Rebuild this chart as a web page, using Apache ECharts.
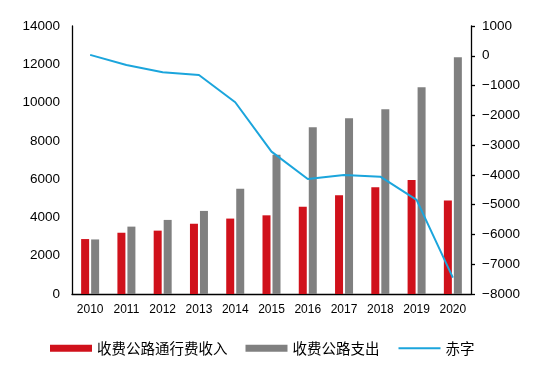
<!DOCTYPE html>
<html>
<head>
<meta charset="utf-8">
<script src="https://cdn.jsdelivr.net/npm/echarts@6/dist/echarts.min.js"></script>
<style>
html,body{margin:0;padding:0;background:#fff;}
#chart{width:550px;height:373px;}
</style>
</head>
<body>
<div id="chart"></div>
<script>
var years = ['2010','2011','2012','2013','2014','2015','2016','2017','2018','2019','2020'];
var tollIncome = [2870, 3200, 3310, 3670, 3940, 4110, 4560, 5160, 5570, 5960, 4880];
var tollSpending = [2850, 3520, 3870, 4340, 5500, 7280, 8710, 9180, 9650, 10800, 12370];
var deficit = [30, -310, -555, -645, -1560, -3220, -4140, -4000, -4060, -4840, -7450];
var seriesNames = ['收费公路通行费收入', '收费公路支出', '赤字'];

var chart = echarts.init(document.getElementById('chart'));
var fontFam = '"Liberation Sans", Arial, "Noto Sans CJK SC", sans-serif';
chart.setOption({
  animation: false,
  backgroundColor: '#fff',
  grid: { left: 72, right: 79, top: 26, bottom: 79 },
  legend: {
    left: 45,
    top: 336,
    itemWidth: 42,
    itemHeight: 7,
    itemGap: 18,
    textStyle: { fontSize: 14.5, color: '#000', fontFamily: '"Noto Sans CJK SC", sans-serif' },
    data: [
      { name: seriesNames[0], icon: 'rect' },
      { name: seriesNames[1], icon: 'rect' },
      { name: seriesNames[2], itemStyle: { opacity: 0 } }
    ]
  },
  xAxis: {
    type: 'category',
    data: years,
    axisLine: { show: true, lineStyle: { color: '#000', width: 1.3 } },
    axisTick: { show: false },
    axisLabel: { color: '#000', fontSize: 12, margin: 10, fontFamily: fontFam },
    splitLine: { show: false }
  },
  yAxis: [
    {
      type: 'value',
      min: 0, max: 14000, interval: 2000,
      axisLine: { show: true, lineStyle: { color: '#000', width: 1.3 } },
      axisTick: { show: false },
      axisLabel: {
        color: '#000', fontSize: 13.5, margin: 12, fontFamily: fontFam,
        formatter: function (v) { return String(v); }
      },
      splitLine: { show: false }
    },
    {
      type: 'value',
      min: -8000, max: 1000, interval: 1000,
      position: 'right',
      axisLine: { show: true, lineStyle: { color: '#000', width: 1.3 } },
      axisTick: { show: true, inside: false, length: 4, lineStyle: { color: '#000', width: 1.3 } },
      axisLabel: {
        color: '#000', fontSize: 13.5, margin: 11, fontFamily: fontFam,
        formatter: function (v) { return String(v).replace('-', '\u2212'); }
      },
      splitLine: { show: false }
    }
  ],
  series: [
    {
      name: seriesNames[0], type: 'bar', data: tollIncome,
      barWidth: 8, barGap: '25%',
      itemStyle: { color: '#D0111B' }
    },
    {
      name: seriesNames[1], type: 'bar', data: tollSpending,
      barWidth: 8, barGap: '25%',
      itemStyle: { color: '#808080' }
    },
    {
      name: seriesNames[2], type: 'line', data: deficit, yAxisIndex: 1,
      symbol: 'none',
      lineStyle: { color: '#1BA5DC', width: 2 },
      itemStyle: { color: '#1BA5DC' }
    }
  ]
});
</script>
</body>
</html>
